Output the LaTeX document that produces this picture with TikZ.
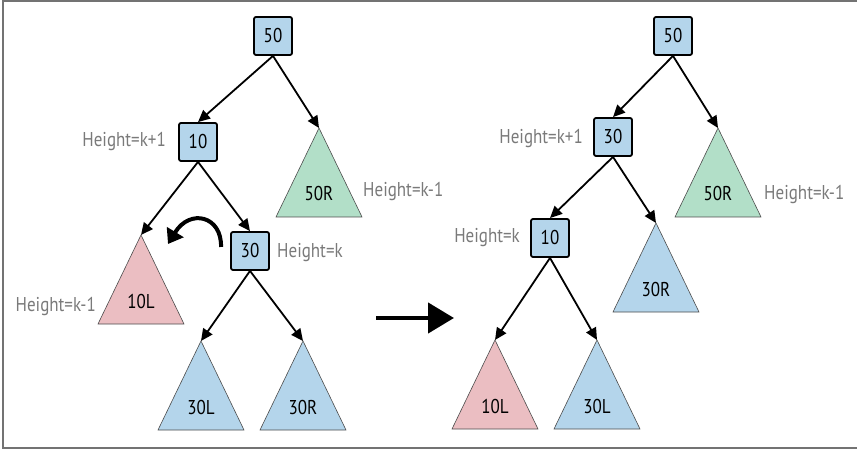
\documentclass[tikz,border=0pt]{standalone}
\usepackage{fontspec}
\setmainfont[FakeStretch=0.85]{PT Sans}
\usetikzlibrary{arrows.meta}
\definecolor{boxblue}{HTML}{B4D5EB}
\definecolor{trigreen}{HTML}{B2DFC8}
\definecolor{tripink}{HTML}{EBBEC2}
\definecolor{labgray}{HTML}{7A7A7A}
\tikzset{
  keybox/.style={draw=black, line width=1.8pt, fill=boxblue, rounded corners=2pt,
    minimum width=38pt, minimum height=38pt, inner sep=0pt, font=\fontsize{20}{20}\selectfont},
  subtree/.style={draw=black!70, line width=0.6pt},
  treelabel/.style={font=\fontsize{20}{20}\selectfont, inner sep=0pt},
  heightlab/.style={font=\fontsize{20}{20}\selectfont, text=labgray, inner sep=0pt},
  edge/.style={line width=1.8pt, -{Triangle[length=12pt,width=11pt]}},
}
\newcommand{\subtri}[5]{% name, apex x, apex y, fill, label
  \fill[#4] (#2,#3) -- (#2-43,#3+89) -- (#2+43,#3+89) -- cycle;
  \draw[subtree] (#2,#3) -- (#2-43,#3+89) -- (#2+43,#3+89) -- cycle;
  \coordinate (#1) at (#2,#3);
  \node[treelabel] (#1lab) at (#2,#3+66) {#5};
}
\begin{document}
\begin{tikzpicture}[x=1pt,y=-1pt]
\useasboundingbox (0,0) rectangle (857,449);
\draw[gray!90!black, line width=2pt] (857,1) -- (3,1) -- (3,448) -- (857,448);

% left tree
\node[keybox] (L50) at (273,36) {50};
\node[keybox] (L10) at (198,142) {10};
\node[keybox] (L30) at (250,251) {30};
\subtri{L50R}{319}{128}{trigreen}{50R}
\subtri{L10L}{141}{235}{tripink}{10L}
\subtri{L30L}{201}{341}{boxblue}{30L}
\subtri{L30R}{303}{341}{boxblue}{30R}
\draw[edge] (L50.south) -- (L10.north);
\draw[edge] (L50.south) -- (L50R);
\draw[edge] (L10.south) -- (L10L);
\draw[edge] (L10.south) -- (L30.north);
\draw[edge] (L30.south) -- (L30L);
\draw[edge] (L30.south) -- (L30R);
\node[heightlab, anchor=east] (hL10) at (166,142) {Height=k+1};
\node[heightlab, anchor=west] (hL50R) at (363,192) {Height=k-1};
\node[heightlab, anchor=west] (hL30) at (277,253) {Height=k};
\node[heightlab, anchor=east] (hL10L) at (96,306) {Height=k-1};
% rotation arrow
\coordinate (rotS) at (221,247);
\coordinate (rotE) at (168,244);
\draw[line width=4pt, -{Triangle[length=14pt,width=19pt]}] (rotS) .. controls (222,216) and (190,208) .. (rotE);

% big arrow
\coordinate (bigS) at (376,318);
\coordinate (bigE) at (454,318);
\draw[line width=4.5pt, -{Triangle[length=26pt,width=30pt]}] (bigS) -- (bigE);

% right tree
\node[keybox] (R50) at (673,36) {50};
\node[keybox] (R30) at (613,137) {30};
\node[keybox] (R10) at (550,238) {10};
\subtri{R50R}{718}{128}{trigreen}{50R}
\subtri{R30R}{656}{223}{boxblue}{30R}
\subtri{R10L}{495}{340}{tripink}{10L}
\subtri{R30L}{597}{340}{boxblue}{30L}
\draw[edge] (R50.south) -- (R30.north);
\draw[edge] (R50.south) -- (R50R);
\draw[edge] (R30.south) -- (R10.north);
\draw[edge] (R30.south) -- (R30R);
\draw[edge] (R10.south) -- (R10L);
\draw[edge] (R10.south) -- (R30L);
\node[heightlab, anchor=east] (hR30) at (583,139) {Height=k+1};
\node[heightlab, anchor=west] (hR50R) at (764,195) {Height=k-1};
\node[heightlab, anchor=east] (hR10) at (520,238) {Height=k};
\end{tikzpicture}
\end{document}
